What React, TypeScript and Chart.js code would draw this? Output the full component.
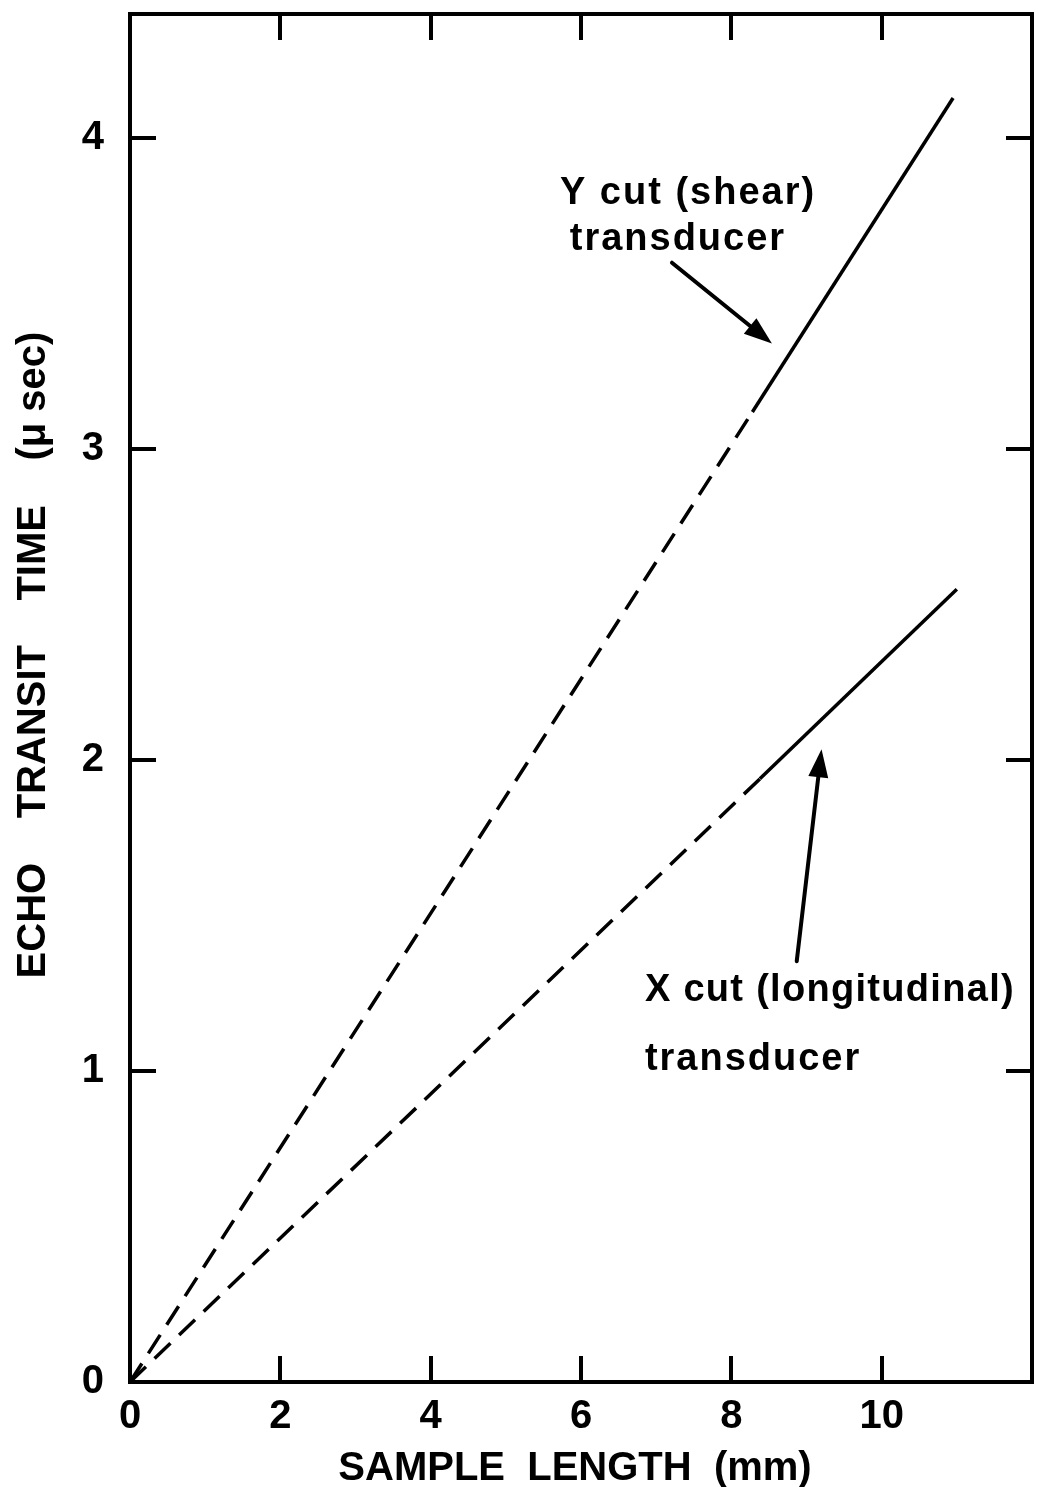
import React, { useEffect, useRef } from "react";
import { Chart, registerables } from "chart.js";

Chart.register(...registerables);

const FONT = "'Liberation Sans', Arial, sans-serif";

// ---- data ----
const xTickStep = 2;
const yTickStep = 1;
const xRange = [0, 12];
const yRange = [0, 4.4];

// Y cut (shear) transducer: dashed up to the 2nd point, solid afterwards
const yCutX = [0, 8.28, 10.95];
const yCutY = [0, 3.12, 4.13];
// X cut (longitudinal) transducer
const xCutX = [0, 8.38, 11.0];
const xCutY = [0, 1.94, 2.55];

const xTitle = "SAMPLE  LENGTH  (mm)";
const yTitle = "ECHO    TRANSIT    TIME    (\u03bc sec)";
const yCutLabel = ["Y cut (shear)", "transducer"];
const xCutLabel = ["X cut (longitudinal)", "transducer"];

// annotation anchors, in data units
const yLabelAt = { x: 5.72, y1: 3.79, y2: 3.64 };
const yArrow = { x0: 7.21, y0: 3.6, x1: 8.54, y1: 3.34 };
const xLabelAt = { x: 6.85, y1: 1.225, y2: 1.005 };
const xArrow = { x0: 8.87, y0: 1.353, x1: 9.2, y1: 2.035 };

const toPts = (xs: number[], ys: number[]) => xs.map((x, i) => ({ x, y: ys[i] }));

function drawArrow(ctx: CanvasRenderingContext2D, x0: number, y0: number, x1: number, y1: number) {
  const ang = Math.atan2(y1 - y0, x1 - x0);
  const len = 28;
  const half = 10;
  const bx = x1 - Math.cos(ang) * len;
  const by = y1 - Math.sin(ang) * len;
  ctx.beginPath();
  ctx.moveTo(x0, y0);
  ctx.lineTo(bx, by);
  ctx.lineWidth = 4;
  ctx.lineCap = "round";
  ctx.stroke();
  ctx.beginPath();
  ctx.moveTo(x1, y1);
  ctx.lineTo(bx - Math.sin(ang) * half, by + Math.cos(ang) * half);
  ctx.lineTo(bx + Math.sin(ang) * half, by - Math.cos(ang) * half);
  ctx.closePath();
  ctx.fill();
}

const decorPlugin = {
  id: "decor",
  afterDraw(chart: any) {
    const { ctx, chartArea, scales } = chart;
    const sx = scales.x;
    const sy = scales.y;
    ctx.save();
    ctx.fillStyle = "#000";
    ctx.strokeStyle = "#000";
    ctx.textBaseline = "alphabetic";

    // axis titles
    ctx.font = `bold 40px ${FONT}`;
    ctx.textAlign = "center";
    (ctx as any).letterSpacing = "0px";
    ctx.fillText(xTitle, (chartArea.left + chartArea.right) / 2 - 6, chartArea.bottom + 98);
    ctx.save();
    ctx.translate(45, (chartArea.top + chartArea.bottom) / 2 - 43);
    ctx.rotate(-Math.PI / 2);
    ctx.fillText(yTitle, 0, 0);
    ctx.restore();

    // annotations
    ctx.textAlign = "left";
    ctx.font = `bold 38px ${FONT}`;
    (ctx as any).letterSpacing = "2px";
    ctx.fillText(yCutLabel[0], sx.getPixelForValue(yLabelAt.x), sy.getPixelForValue(yLabelAt.y1));
    ctx.fillText(yCutLabel[1], sx.getPixelForValue(yLabelAt.x + 0.13), sy.getPixelForValue(yLabelAt.y2));
    (ctx as any).letterSpacing = "1.3px";
    ctx.fillText(xCutLabel[0], sx.getPixelForValue(xLabelAt.x), sy.getPixelForValue(xLabelAt.y1));
    (ctx as any).letterSpacing = "2px";
    ctx.fillText(xCutLabel[1], sx.getPixelForValue(xLabelAt.x), sy.getPixelForValue(xLabelAt.y2));
    (ctx as any).letterSpacing = "0px";

    drawArrow(ctx, sx.getPixelForValue(yArrow.x0), sy.getPixelForValue(yArrow.y0), sx.getPixelForValue(yArrow.x1), sy.getPixelForValue(yArrow.y1));
    drawArrow(ctx, sx.getPixelForValue(xArrow.x0), sy.getPixelForValue(xArrow.y0), sx.getPixelForValue(xArrow.x1), sy.getPixelForValue(xArrow.y1));
    ctx.restore();
  },
};

const dash = (c: any) => (c.p0DataIndex === 0 ? [22, 12] : []);

const fixBox = (w: number | null, h: number | null) => (s: any) => {
  if (w !== null) s.width = w;
  if (h !== null) s.height = h;
  s.paddingTop = 0;
  s.paddingBottom = 0;
  s.paddingLeft = 0;
  s.paddingRight = 0;
};

export default function App() {
  const ref = useRef<HTMLCanvasElement | null>(null);
  useEffect(() => {
    document.body.style.margin = "0";
    if (!ref.current) return;
    const axisGrid = {
      drawOnChartArea: false,
      drawTicks: true,
      tickLength: -26,
      tickWidth: 4,
      tickColor: "#000",
      lineWidth: 4,
      color: "#000",
    };
    const border = { display: true, color: "#000", width: 4 };
    const tickFont = { family: FONT, size: 40, weight: "bold" };
    const chart = new Chart(ref.current, {
      type: "line",
      data: {
        datasets: [
          {
            label: "Y cut (shear) transducer",
            data: toPts(yCutX, yCutY),
            borderColor: "#000",
            borderWidth: 3.5,
            pointRadius: 0,
            tension: 0,
            segment: { borderDash: dash },
          },
          {
            label: "X cut (longitudinal) transducer",
            data: toPts(xCutX, xCutY),
            borderColor: "#000",
            borderWidth: 3.5,
            pointRadius: 0,
            tension: 0,
            segment: { borderDash: dash },
          },
        ],
      },
      options: {
        animation: false,
        responsive: true,
        maintainAspectRatio: false,
        layout: { padding: 0 },
        plugins: { legend: { display: false }, tooltip: { enabled: false } },
        scales: {
          x: {
            type: "linear",
            position: "bottom",
            min: xRange[0],
            max: xRange[1],
            ticks: {
              stepSize: xTickStep,
              font: tickFont,
              color: "#000",
              padding: 37,
              maxRotation: 0,
              callback: (v: any) => (Number(v) > 10 ? "" : String(v)),
            },
            grid: axisGrid,
            border,
            afterFit: fixBox(null, 105),
          },
          x2: {
            type: "linear",
            position: "top",
            min: xRange[0],
            max: xRange[1],
            ticks: { stepSize: xTickStep, display: false },
            grid: axisGrid,
            border,
            afterFit: fixBox(null, 14),
          },
          y: {
            type: "linear",
            position: "left",
            min: yRange[0],
            max: yRange[1],
            ticks: {
              stepSize: yTickStep,
              includeBounds: false,
              font: tickFont,
              color: "#000",
              padding: 52,
            },
            grid: axisGrid,
            border,
            afterFit: fixBox(130, null),
          },
          y2: {
            type: "linear",
            position: "right",
            min: yRange[0],
            max: yRange[1],
            ticks: { stepSize: yTickStep, includeBounds: false, display: false },
            grid: axisGrid,
            border,
            afterFit: fixBox(12, null),
          },
        },
      },
      plugins: [decorPlugin],
    } as any);
    return () => chart.destroy();
  }, []);
  return (
    <div style={{ width: 1044, height: 1487, position: "relative", background: "#fff" }}>
      <canvas ref={ref} />
    </div>
  );
}
